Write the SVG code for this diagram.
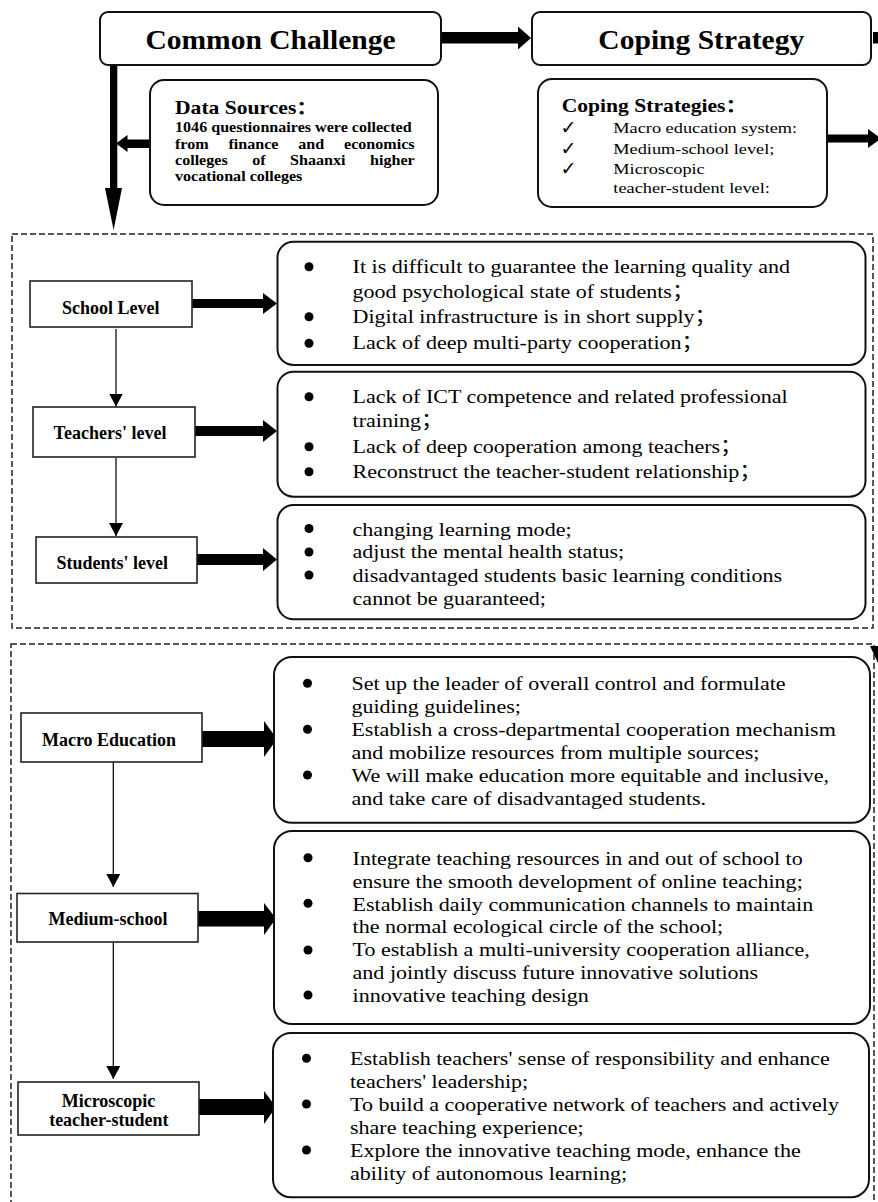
<svg xmlns="http://www.w3.org/2000/svg" width="878" height="1202" viewBox="0 0 878 1202">
<style>
  .bg{fill:#fff}
  .rbox{fill:#fff;stroke:#111;stroke-width:2}
  .lbox{fill:#fff;stroke:#222;stroke-width:1.6}
  .dash{fill:none;stroke:#222;stroke-width:1.5;stroke-dasharray:6 3}
  .thin{stroke:#111;stroke-width:1.3;fill:none}
  .blk{fill:#000}
  .title{font-family:"Liberation Serif","Times New Roman",serif;font-weight:bold;font-size:28px;fill:#000}
  .lab{font-family:"Liberation Serif","Times New Roman",serif;font-weight:bold;font-size:18px;fill:#000;text-anchor:middle}
  .hd{font-family:"Liberation Serif","Noto Sans CJK SC",serif;font-weight:bold;font-size:18px;fill:#000}
  .ds{font-family:"Liberation Serif","Times New Roman",serif;font-weight:bold;font-size:14px;fill:#000}
  .cs{font-family:"Liberation Serif","Times New Roman",serif;font-size:15px;fill:#000}
  .ck{font-family:"DejaVu Sans",sans-serif;font-size:19px;fill:#000}
  .body{font-family:"Liberation Serif","Noto Sans CJK SC",serif;font-size:19.5px;fill:#000}
</style>
<defs>
  <marker id="ah" markerWidth="14" markerHeight="14" refX="13" refY="7" orient="auto" markerUnits="userSpaceOnUse">
    <path d="M0,0 L13,7 L0,14 Z" fill="#000"/>
  </marker>
</defs>
<rect class="bg" x="0" y="0" width="878" height="1202"/>

<!-- dashed containers -->
<rect class="dash" x="12" y="234" width="861" height="394"/>
<rect class="dash" x="11" y="644" width="863" height="570"/>

<!-- connectors -->
<g id="connectors">
  <rect class="blk" x="441" y="32" width="78" height="11.5"/>
  <polygon class="blk" points="518,26.5 531,38 518,49.5"/>
  <rect class="blk" x="873" y="32" width="6" height="11.5"/>
  <rect class="blk" x="110" y="65" width="7.3" height="124"/>
  <polygon class="blk" points="105,188 122,188 113.6,230"/>
  <rect class="blk" x="126" y="139.5" width="24" height="8.5"/>
  <polygon class="blk" points="127.5,135 127.5,152 116,143.5"/>
  <rect class="blk" x="827" y="134.5" width="43" height="8"/>
  <polygon class="blk" points="868,129 868,148 881,138.5"/>
  <polygon class="blk" points="870,646 878,646 878,663"/>

  <rect class="blk" x="192" y="299" width="72" height="9"/>
  <polygon class="blk" points="263,293 277,303.5 263,314"/>
  <rect class="blk" x="195" y="426" width="69" height="10"/>
  <polygon class="blk" points="263,420 277,431 263,442"/>
  <rect class="blk" x="197" y="554" width="67" height="11"/>
  <polygon class="blk" points="263,548 277,559.5 263,571"/>
  <line class="thin" x1="116" y1="329" x2="116" y2="406.5" marker-end="url(#ah)"/>
  <line class="thin" x1="116" y1="458" x2="116" y2="536" marker-end="url(#ah)"/>

  <rect class="blk" x="202" y="731" width="63" height="16"/>
  <polygon class="blk" points="264,721 277,739 264,757"/>
  <rect class="blk" x="198" y="911" width="67" height="15.5"/>
  <polygon class="blk" points="264,903 276,918.5 264,935"/>
  <rect class="blk" x="199" y="1099" width="66" height="16"/>
  <polygon class="blk" points="264,1091 276,1107 264,1124"/>
  <line class="thin" x1="113.3" y1="762" x2="113.3" y2="887" marker-end="url(#ah)"/>
  <line class="thin" x1="113.3" y1="942" x2="113.3" y2="1079" marker-end="url(#ah)"/>
</g>

<g id="common-challenge">
  <rect class="rbox" x="100" y="12" width="341" height="53" rx="8"/>
  <text class="title" text-anchor="middle" transform="translate(270.5,49.3) scale(1.055,1)">Common Challenge</text>
</g>
<g id="coping-strategy">
  <rect class="rbox" x="532" y="12" width="339" height="53" rx="8"/>
  <text class="title" text-anchor="middle" transform="translate(701.3,49.3) scale(1.055,1)">Coping Strategy</text>
</g>

<g id="data-sources">
  <rect class="rbox" x="150" y="80" width="288" height="125" rx="14"/>
  <text class="hd" transform="translate(175,114) scale(1.2,1)">Data Sources：</text>
  <g transform="matrix(1.15,0,0,1,-26.25,0)">
    <text class="ds" x="175" y="132.3">1046 questionnaires were collected</text>
    <text class="ds" x="175" y="149" style="word-spacing:13.7px">from finance and economics</text>
    <text class="ds" x="175" y="165" style="word-spacing:17.8px">colleges of Shaanxi higher</text>
    <text class="ds" x="175" y="180.7">vocational colleges</text>
  </g>
</g>

<g id="coping-strategies">
  <rect class="rbox" x="538" y="79" width="289" height="128" rx="14"/>
  <text class="hd" transform="translate(561.7,112.3) scale(1.2,1)">Coping Strategies：</text>
  <text class="ck" x="560.5" y="134">✓</text>
  <text class="ck" x="560.5" y="154.5">✓</text>
  <text class="ck" x="560.5" y="174.5">✓</text>
  <g transform="matrix(1.22,0,0,1,-134.9,0)">
    <text class="cs" x="613.3" y="133.3">Macro education system:</text>
    <text class="cs" x="613.3" y="154">Medium-school level;</text>
    <text class="cs" x="613.3" y="174">Microscopic</text>
    <text class="cs" x="613.3" y="193.3">teacher-student level:</text>
  </g>
</g>

<g id="school-level">
  <rect class="lbox" x="30" y="281" width="162" height="46"/>
  <text class="lab" x="110.8" y="313.7">School Level</text>
</g>
<g id="teachers-level">
  <rect class="lbox" x="33" y="407" width="162" height="50"/>
  <text class="lab" x="110" y="439">Teachers' level</text>
</g>
<g id="students-level">
  <rect class="lbox" x="36" y="537" width="161" height="46"/>
  <text class="lab" x="112.2" y="569.3">Students' level</text>
</g>

<g id="school-challenges">
  <rect class="rbox" x="277.5" y="241.7" width="588" height="123.3" rx="16"/>
  <circle class="blk" cx="309" cy="266.7" r="4.5"/>
  <circle class="blk" cx="309" cy="316.7" r="4.5"/>
  <circle class="blk" cx="309" cy="343.3" r="4.5"/>
  <g transform="matrix(1.13,0,0,1,-45.84,0)">
    <text class="body" x="352.6" y="273">It is difficult to guarantee the learning quality and</text>
    <text class="body" x="352.6" y="298">good psychological state of students；</text>
    <text class="body" x="352.6" y="323">Digital infrastructure is in short supply；</text>
    <text class="body" x="352.6" y="349">Lack of deep multi-party cooperation；</text>
  </g>
</g>

<g id="teacher-challenges">
  <rect class="rbox" x="277.5" y="371.7" width="588" height="125" rx="16"/>
  <circle class="blk" cx="309" cy="396.7" r="4.5"/>
  <circle class="blk" cx="309" cy="446.7" r="4.5"/>
  <circle class="blk" cx="309" cy="471.7" r="4.5"/>
  <g transform="matrix(1.13,0,0,1,-45.84,0)">
    <text class="body" x="352.6" y="403">Lack of ICT competence and related professional</text>
    <text class="body" x="352.6" y="427">training；</text>
    <text class="body" x="352.6" y="453">Lack of deep cooperation among teachers；</text>
    <text class="body" x="352.6" y="478">Reconstruct the teacher-student relationship；</text>
  </g>
</g>

<g id="student-challenges">
  <rect class="rbox" x="277.5" y="505" width="588" height="114.3" rx="16"/>
  <circle class="blk" cx="309" cy="528.5" r="4.5"/>
  <circle class="blk" cx="309" cy="552" r="4.5"/>
  <circle class="blk" cx="309" cy="575" r="4.5"/>
  <g transform="matrix(1.13,0,0,1,-45.84,0)">
    <text class="body" x="352.6" y="536">changing learning mode;</text>
    <text class="body" x="352.6" y="558">adjust the mental health status;</text>
    <text class="body" x="352.6" y="582">disadvantaged students basic learning conditions</text>
    <text class="body" x="352.6" y="605">cannot be guaranteed;</text>
  </g>
</g>

<g id="macro-education">
  <rect class="lbox" x="21" y="713" width="181" height="49"/>
  <text class="lab" x="109" y="746">Macro Education</text>
</g>
<g id="medium-school">
  <rect class="lbox" x="17" y="893.5" width="181" height="48.5"/>
  <text class="lab" x="108" y="925">Medium-school</text>
</g>
<g id="microscopic">
  <rect class="lbox" x="18" y="1082" width="181" height="53"/>
  <text class="lab" x="108.5" y="1106.6">Microscopic</text>
  <text class="lab" x="108.8" y="1125.6">teacher-student</text>
</g>

<g id="macro-strategies">
  <rect class="rbox" x="274" y="657" width="596" height="165.7" rx="18"/>
  <circle class="blk" cx="307.5" cy="683.3" r="4.5"/>
  <circle class="blk" cx="307.5" cy="729.3" r="4.5"/>
  <circle class="blk" cx="307.5" cy="775" r="4.5"/>
  <g transform="matrix(1.13,0,0,1,-45.68,0)">
    <text class="body" x="351.4" y="690.5">Set up the leader of overall control and formulate</text>
    <text class="body" x="351.4" y="713.5">guiding guidelines;</text>
    <text class="body" x="351.4" y="736.5">Establish a cross-departmental cooperation mechanism</text>
    <text class="body" x="351.4" y="759.5">and mobilize resources from multiple sources;</text>
    <text class="body" x="351.4" y="782.5">We will make education more equitable and inclusive,</text>
    <text class="body" x="351.4" y="805.5">and take care of disadvantaged students.</text>
  </g>
</g>

<g id="medium-strategies">
  <rect class="rbox" x="274" y="831" width="596" height="193" rx="18"/>
  <circle class="blk" cx="308" cy="857.7" r="4.5"/>
  <circle class="blk" cx="308" cy="903.3" r="4.5"/>
  <circle class="blk" cx="308" cy="950" r="4.5"/>
  <circle class="blk" cx="308" cy="995" r="4.5"/>
  <g transform="matrix(1.13,0,0,1,-45.84,0)">
    <text class="body" x="352.6" y="865">Integrate teaching resources in and out of school to</text>
    <text class="body" x="352.6" y="888.3">ensure the smooth development of online teaching;</text>
    <text class="body" x="352.6" y="911">Establish daily communication channels to maintain</text>
    <text class="body" x="352.6" y="933.3">the normal ecological circle of the school;</text>
    <text class="body" x="352.6" y="956">To establish a multi-university cooperation alliance,</text>
    <text class="body" x="352.6" y="979.3">and jointly discuss future innovative solutions</text>
    <text class="body" x="352.6" y="1001.7">innovative teaching design</text>
  </g>
</g>

<g id="micro-strategies">
  <rect class="rbox" x="273" y="1033" width="596" height="164.3" rx="18"/>
  <circle class="blk" cx="306.5" cy="1058.3" r="4.5"/>
  <circle class="blk" cx="306.5" cy="1104" r="4.5"/>
  <circle class="blk" cx="306.5" cy="1150" r="4.5"/>
  <g transform="matrix(1.13,0,0,1,-45.5,0)">
    <text class="body" x="350" y="1065">Establish teachers' sense of responsibility and enhance</text>
    <text class="body" x="350" y="1088.3">teachers' leadership;</text>
    <text class="body" x="350" y="1110.7">To build a cooperative network of teachers and actively</text>
    <text class="body" x="350" y="1134.3">share teaching experience;</text>
    <text class="body" x="350" y="1156.7">Explore the innovative teaching mode, enhance the</text>
    <text class="body" x="350" y="1180">ability of autonomous learning;</text>
  </g>
</g>
</svg>
